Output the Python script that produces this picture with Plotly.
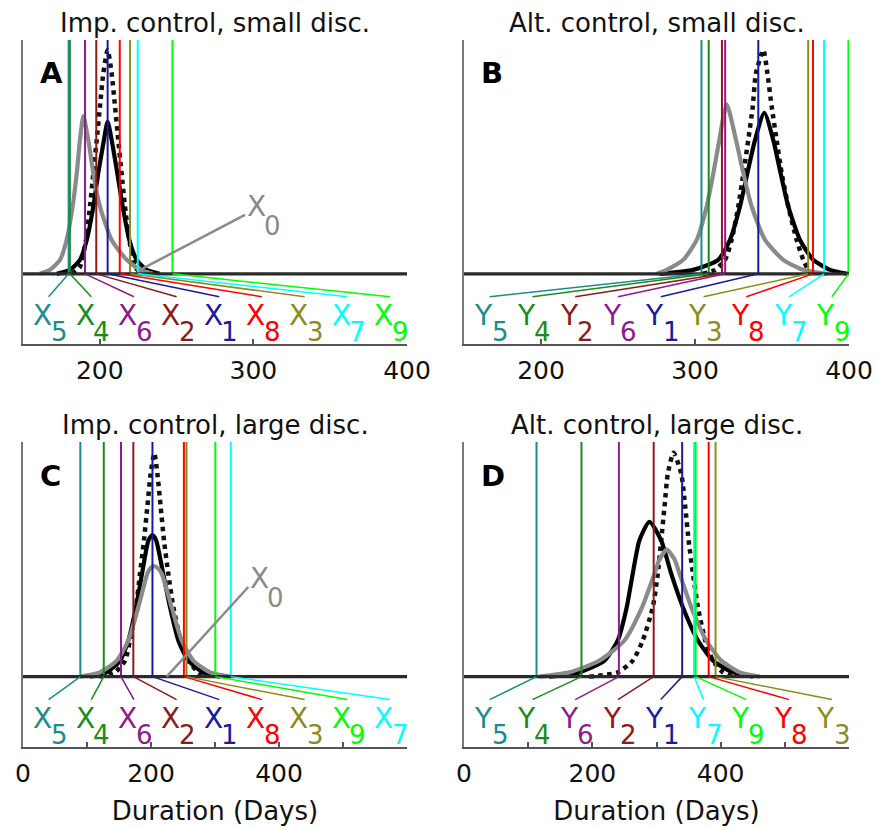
import plotly.graph_objects as go

FONT = "DejaVu Sans"
W, H = 877, 827

# ---------------- data ----------------
titles = ["Imp. control, small disc.", "Alt. control, small disc.",
          "Imp. control, large disc.", "Alt. control, large disc."]
letters = ["A", "B", "C", "D"]
prefixes = ["X", "Y", "X", "Y"]
x_ranges = [[150, 400], [150, 400], [0, 600], [0, 600]]
tick_vals = [[200, 300, 400], [200, 300, 400], [0, 200, 400], [0, 200, 400]]
tick_text = [["200", "300", "400"], ["200", "300", "400"],
             ["0", "200", "400"], ["0", "200", "400"]]
minor_step = [None, None, 100, 100]
axis_title = "Duration (Days)"

# positions of variables 1..9 (vertical lines), per panel
pos_A = [205.1, 197.7, 219.7, 180.5, 179.7, 190.4, 224.7, 213.0, 247.3]
pos_B = [341.1, 317.5, 373.5, 308.9, 304.2, 319.6, 383.8, 376.6, 399.6]
pos_C = [202.3, 172.4, 255.5, 126.2, 89.6, 153.1, 324.7, 251.4, 300.5]
pos_D = [340.0, 295.6, 392.0, 183.1, 113.0, 241.4, 358.6, 381.3, 361.0]
positions = [pos_A, pos_B, pos_C, pos_D]

var_colors = ["#1a1a9c", "#8c1a1a", "#8c8c1a", "#1a8c1a", "#1a8c8c",
              "#8c1a8c", "#00ffff", "#ff0000", "#00ff00"]

# density curves (dotted black, solid black, solid gray)
dot_A_x = [182, 187.1, 191, 193.6, 195.8, 198, 200.1, 202.3, 205.1, 207.7, 209.9, 212, 214.2, 216.4, 219.2, 222.9, 227]
dot_A_y = [0, 0.03, 0.145, 0.288, 0.43, 0.573, 0.715, 0.858, 0.957, 0.858, 0.715, 0.573, 0.43, 0.288, 0.145, 0.03, 0]
blk_A_x = [172, 180.6, 187.1, 191.5, 195.8, 199, 202.7, 205.1, 207.7, 211.4, 214.9, 219.2, 224, 230.5, 239]
blk_A_y = [0, 0.017, 0.06, 0.145, 0.288, 0.43, 0.573, 0.651, 0.573, 0.43, 0.288, 0.145, 0.06, 0.017, 0]
gry_A_x = [161, 167.6, 174.1, 178.4, 182.3, 185, 187.1, 189.3, 192.5, 195.8, 200.1, 207.7, 217.5, 226.2, 234.6]
gry_A_y = [0, 0.017, 0.06, 0.145, 0.288, 0.43, 0.573, 0.675, 0.573, 0.43, 0.288, 0.145, 0.06, 0.017, 0]

dot_B_x = [305, 313, 319.5, 323.8, 328.1, 331.4, 334.6, 337.5, 339.6, 344.4, 347, 349.8, 353, 356.3, 360.6, 366, 370.3, 373.6, 376.7]
dot_B_y = [0, 0.017, 0.06, 0.145, 0.288, 0.43, 0.573, 0.715, 0.858, 0.957, 0.858, 0.715, 0.573, 0.43, 0.288, 0.145, 0.06, 0.017, 0]
blk_B_x = [277, 298.9, 315.1, 322.7, 329.2, 334, 339, 345, 350.8, 355.6, 360.6, 368.2, 376.8, 387.7, 399.4]
blk_B_y = [0, 0.017, 0.06, 0.145, 0.288, 0.43, 0.573, 0.689, 0.573, 0.43, 0.288, 0.145, 0.06, 0.017, 0]
gry_B_x = [275, 281.6, 292.4, 301.1, 307.6, 311.9, 315.8, 320.6, 326.6, 331.4, 336.8, 345.5, 357.3, 370.3, 385.5]
gry_B_y = [0, 0.017, 0.06, 0.145, 0.288, 0.43, 0.573, 0.725, 0.573, 0.43, 0.288, 0.145, 0.06, 0.017, 0]

dot_C_x = [120, 143.8, 159.4, 167.2, 176.6, 182.8, 189, 194.3, 199.5, 205.2, 209.9, 215.1, 220.3, 227, 234.9, 246.4, 258.3, 274, 287]
dot_C_y = [0, 0.018, 0.068, 0.154, 0.296, 0.439, 0.581, 0.724, 0.866, 0.952, 0.866, 0.724, 0.581, 0.439, 0.296, 0.154, 0.068, 0.018, 0]
blk_C_x = [104.7, 130.7, 151.6, 164.6, 176.6, 186, 196, 202, 208, 219, 229.7, 242.7, 258.3, 281.8, 307.8]
blk_C_y = [0, 0.018, 0.068, 0.154, 0.296, 0.439, 0.581, 0.603, 0.581, 0.439, 0.296, 0.154, 0.068, 0.018, 0]
gry_C_x = [89, 120.3, 146.4, 164.6, 180.2, 194.3, 199, 204.7, 211, 216.7, 232.3, 248, 266.1, 292.2, 323.4]
gry_C_y = [0, 0.018, 0.068, 0.154, 0.296, 0.439, 0.462, 0.471, 0.462, 0.439, 0.296, 0.154, 0.068, 0.018, 0]

dot_D_x = [195, 239.6, 263, 278.6, 294.2, 302, 307.3, 312.5, 317.7, 326.6, 338.5, 344.8, 350, 356.8, 364.6, 376, 388, 403.6, 419]
dot_D_y = [0, 0.018, 0.068, 0.154, 0.296, 0.439, 0.581, 0.724, 0.866, 0.954, 0.866, 0.724, 0.581, 0.439, 0.296, 0.154, 0.068, 0.018, 0]
blk_D_x = [132.8, 179.7, 218.8, 239.6, 253.6, 263, 273.4, 289, 307.3, 322.9, 341.1, 364.6, 388, 419.3, 450.5]
blk_D_y = [0, 0.018, 0.068, 0.154, 0.296, 0.439, 0.581, 0.66, 0.581, 0.439, 0.296, 0.154, 0.068, 0.018, 0]
gry_D_x = [117, 164, 211, 250, 277.6, 296.9, 304.7, 316.1, 328, 335.9, 354.2, 377.6, 401, 429.7, 461]
gry_D_y = [0, 0.018, 0.068, 0.154, 0.296, 0.439, 0.5, 0.541, 0.5, 0.439, 0.296, 0.154, 0.068, 0.018, 0]

curves = [
    [(dot_A_x, dot_A_y), (blk_A_x, blk_A_y), (gry_A_x, gry_A_y)],
    [(dot_B_x, dot_B_y), (blk_B_x, blk_B_y), (gry_B_x, gry_B_y)],
    [(dot_C_x, dot_C_y), (blk_C_x, blk_C_y), (gry_C_x, gry_C_y)],
    [(dot_D_x, dot_D_y), (blk_D_x, blk_D_y), (gry_D_x, gry_D_y)],
]

# X0 pointer (panels A and C): start (x, y) and end (x, y)
x0_pointer = {0: [(226.2, 0.017), (294.5, 0.252)],
              2: [(224.5, 0.0), (352.0, 0.382)]}

# ---------------- layout geometry ----------------
px_x = [(23, 407), (464, 849), (23, 407), (464, 849)]
px_y = [(40, 344), (40, 344), (442, 747), (442, 747)]
Y_RANGE = [-0.3, 1.0]
LABEL_Y = -0.098
LETTER_SIZE, DIGIT_SIZE = 28, 26
GRAY = "#8a8a8a"

fig = go.Figure()
annotations = []
layout = {}


def add_label(ann, x, y, xa, ya, letter, digit, color, anchor):
    """A letter with a lowered, slightly smaller index next to it."""
    if anchor == "center":
        lx_shift, dx_shift, l_anchor, l_yshift, d_yshift = -6, 10.5, "center", 0, -18
    else:  # pointer label: anchored at its lower-left corner
        lx_shift, dx_shift, l_anchor, l_yshift, d_yshift = 0, 17, "left", 27, 6
    ann.append(dict(x=x, y=y, xref=xa, yref=ya, xanchor=l_anchor, yanchor="top",
                    xshift=lx_shift, yshift=l_yshift, text=letter, showarrow=False,
                    font=dict(family=FONT, size=LETTER_SIZE, color=color)))
    ann.append(dict(x=x, y=y, xref=xa, yref=ya, xanchor=l_anchor, yanchor="top",
                    xshift=dx_shift, yshift=d_yshift, text=digit, showarrow=False,
                    font=dict(family=FONT, size=DIGIT_SIZE, color=color)))


for p in range(4):
    n = "" if p == 0 else str(p + 1)
    xa, ya = "x" + n, "y" + n
    x0r, x1r = x_ranges[p]
    pos = positions[p]

    # density curves
    styles = [dict(color="#111111", width=4.5, dash="dot"),
              dict(color="#000000", width=4.2),
              dict(color=GRAY, width=4.2)]
    for (cx, cy), st in zip(curves[p], styles):
        fig.add_trace(go.Scatter(x=cx, y=cy, mode="lines",
                                 line=dict(shape="spline", smoothing=0.6, **st),
                                 xaxis=xa, yaxis=ya, showlegend=False, hoverinfo="skip"))

    # vertical lines
    for i in range(9):
        fig.add_trace(go.Scatter(x=[pos[i], pos[i]], y=[0, 1], mode="lines",
                                 line=dict(color=var_colors[i], width=2),
                                 xaxis=xa, yaxis=ya, showlegend=False, hoverinfo="skip"))

    # baseline
    fig.add_trace(go.Scatter(x=[x0r, x1r], y=[0, 0], mode="lines",
                             line=dict(color="#2a2a2a", width=3.2),
                             xaxis=xa, yaxis=ya, showlegend=False, hoverinfo="skip"))

    # labels + connectors
    order = sorted(range(9), key=lambda i: pos[i])
    for k, i in enumerate(order):
        lx = x0r + (k + 0.6) / 9 * (x1r - x0r)
        fig.add_trace(go.Scatter(x=[pos[i], lx], y=[0, LABEL_Y], mode="lines",
                                 line=dict(color=var_colors[i], width=1.5),
                                 xaxis=xa, yaxis=ya, showlegend=False, hoverinfo="skip"))
        add_label(annotations, lx, LABEL_Y, xa, ya, prefixes[p], str(i + 1),
                  var_colors[i], "center")

    # X0 pointer
    if p in x0_pointer:
        (sx, sy), (ex, ey) = x0_pointer[p]
        fig.add_trace(go.Scatter(x=[sx, ex], y=[sy, ey], mode="lines",
                                 line=dict(color=GRAY, width=2.5),
                                 xaxis=xa, yaxis=ya, showlegend=False, hoverinfo="skip"))
        add_label(annotations, ex, ey, xa, ya, "X", "0", GRAY, "left")

    # title and panel letter
    (lx0, lx1), (ty, by) = px_x[p], px_y[p]
    annotations.append(dict(
        x=(lx0 + lx1) / 2 / W, y=1 - ty / H, xref="paper", yref="paper",
        xanchor="center", yanchor="bottom", text=titles[p], showarrow=False,
        font=dict(family=FONT, size=26, color="#111111")))
    annotations.append(dict(
        x=0.04, y=0.89, xref=xa + " domain", yref=ya + " domain",
        xanchor="left", yanchor="middle", text=f"<b>{letters[p]}</b>", showarrow=False,
        font=dict(family=FONT, size=29, color="#000000")))

    xaxis = dict(
        domain=[lx0 / W, lx1 / W], range=x_ranges[p], anchor=ya,
        showgrid=False, zeroline=False, showline=True, linecolor="#555555", linewidth=1.5,
        ticks="inside", ticklen=5, tickwidth=1.5, tickcolor="#555555",
        tickmode="array", tickvals=tick_vals[p], ticktext=tick_text[p], ticklabelstandoff=3,
        tickfont=dict(family=FONT, size=25, color="#111111"),
        automargin=False, fixedrange=True)
    if minor_step[p]:
        xaxis["minor"] = dict(dtick=minor_step[p], tick0=0, ticks="inside", ticklen=5,
                              tickwidth=1.5, tickcolor="#555555", showgrid=False)
    if p >= 2:
        xaxis["title"] = dict(text=axis_title, standoff=15,
                              font=dict(family=FONT, size=26, color="#111111"))
    layout["xaxis" + n] = xaxis
    layout["yaxis" + n] = dict(
        domain=[1 - by / H, 1 - ty / H], range=Y_RANGE, anchor=xa,
        showgrid=False, zeroline=False, showline=True, linecolor="#777777", linewidth=1.5,
        ticks="", showticklabels=False, automargin=False, fixedrange=True)

fig.update_layout(width=W, height=H, margin=dict(l=0, r=0, t=0, b=0),
                  paper_bgcolor="white", plot_bgcolor="white",
                  annotations=annotations, showlegend=False, **layout)

fig.write_html("out.html")
